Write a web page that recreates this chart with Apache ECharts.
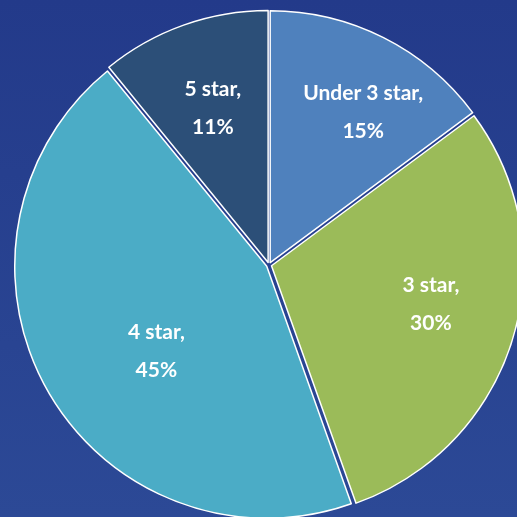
<!DOCTYPE html>
<html>
<head>
<meta charset="utf-8">
<script src="https://cdn.jsdelivr.net/npm/echarts@6/dist/echarts.min.js"></script>
<style>
  html, body { margin: 0; padding: 0; width: 517px; height: 517px; overflow: hidden; background: #28418f; }
  #chart { width: 517px; height: 517px; }
</style>
</head>
<body>
<div id="chart"></div>
<script>
// Data
const categories = ['Under 3 star', '3 star', '4 star', '5 star'];
const values = [15, 30, 45, 11];
const valueLabels = ['15%', '30%', '45%', '11%'];

// Styling (not data)
const sliceColors = ['#4f81bd', '#9bbb59', '#4bacc6', '#2c4f78'];
const labelShift = [[35, -35], [36, 1], [2, 22], [-12, -33]];

const chart = echarts.init(document.getElementById('chart'), null, { renderer: 'canvas' });

const option = {
  animation: false,
  backgroundColor: {
    type: 'linear', x: 0, y: 0, x2: 0, y2: 1,
    colorStops: [
      { offset: 0, color: '#233a8a' },
      { offset: 1, color: '#2c4996' }
    ]
  },
  series: [{
    type: 'pie',
    center: [269, 265],
    radius: 252,
    startAngle: 90,
    clockwise: true,
    selectedMode: 'multiple',
    selectedOffset: 2.6,
    avoidLabelOverlap: false,
    emphasis: { disabled: true },
    itemStyle: { borderColor: '#ffffff', borderWidth: 1.5 },
    label: {
      show: true,
      position: 'inside',
      color: '#ffffff',
      fontFamily: "Lato, Roboto, sans-serif",
      fontWeight: 'bold',
      fontSize: 21,
      lineHeight: 38,
      align: 'center',
      formatter: function (p) { return p.name + ',\n' + valueLabels[p.dataIndex]; }
    },
    labelLine: { show: false },
    labelLayout: function (params) {
      const s = labelShift[params.dataIndex];
      return { dx: s[0], dy: s[1] };
    },
    data: categories.map(function (c, i) {
      return { name: c, value: values[i], selected: true, itemStyle: { color: sliceColors[i] } };
    })
  }]
};

chart.setOption(option);
</script>
</body>
</html>
